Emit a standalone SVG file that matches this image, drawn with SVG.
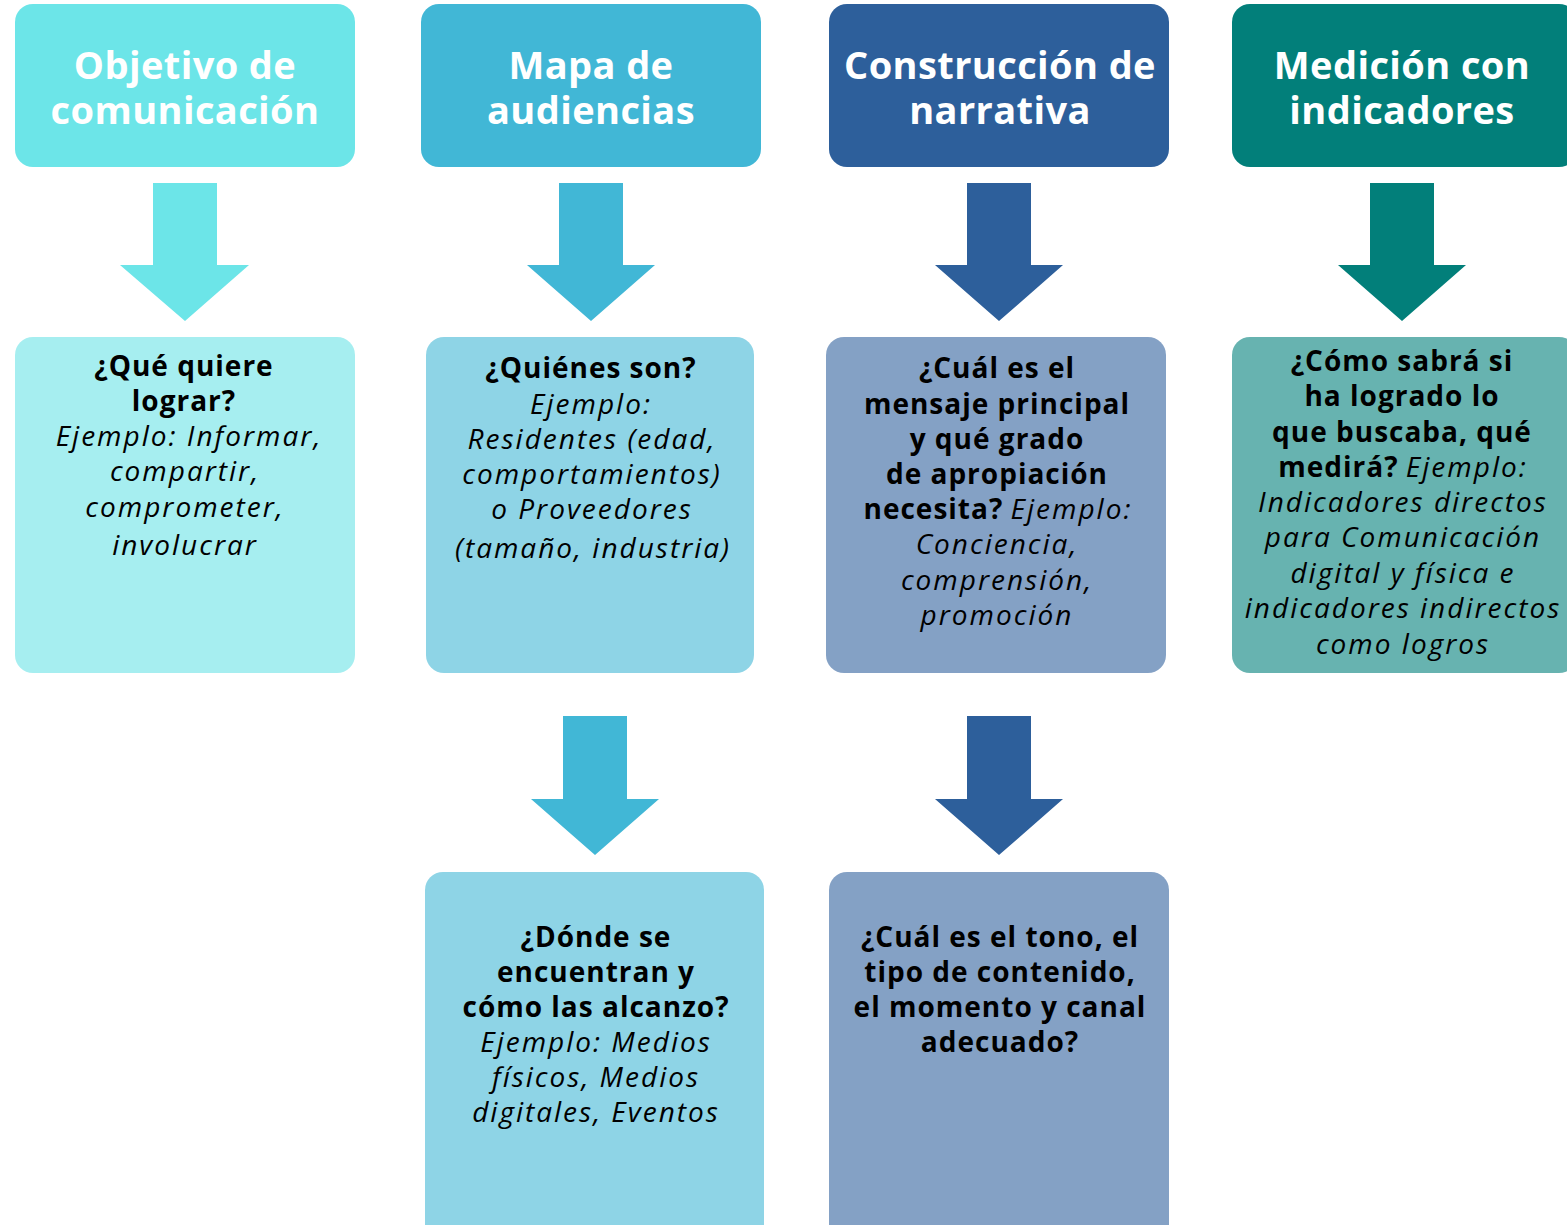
<svg xmlns="http://www.w3.org/2000/svg" width="1567" height="1225" viewBox="0 0 1567 1225">
<style>
.h{font-family:"Open Sans","Noto Sans",sans-serif;font-weight:700;font-size:38px;letter-spacing:0.4px;fill:#fff;text-anchor:middle}
.t{font-family:"Open Sans","Noto Sans",sans-serif;font-size:28px;fill:#000;text-anchor:middle}
.b{font-weight:700;letter-spacing:1px}
.i{font-style:italic;letter-spacing:2px}
.c1{fill:#6CE5E8}.c2{fill:#41B7D6}.c3{fill:#2D5F9B}.c4{fill:#027F7A}
.l1{fill:#A6EEF0}.l2{fill:#8ED4E6}.l3{fill:#84A1C5}.l4{fill:#67B3B0}
</style>
<rect width="1567" height="1225" fill="#fff"/>
<g id="connectors">
<polygon class="c1" points="153,183 217,183 217,265 249,265 185,321 120,265 153,265"/>
<polygon class="c2" points="559,183 623,183 623,265 655,265 591,321 527,265 559,265"/>
<polygon class="c3" points="967,183 1031,183 1031,265 1063,265 999,321 935,265 967,265"/>
<polygon class="c4" points="1370,183 1434,183 1434,265 1466,265 1402,321 1338,265 1370,265"/>
<polygon class="c2" points="563,716 627,716 627,799 659,799 595,855 531,799 563,799"/>
<polygon class="c3" points="967,716 1031,716 1031,799 1063,799 999,855 935,799 967,799"/>
</g>
<g id="h1"><rect class="c1" x="15" y="4" width="340" height="163" rx="18"/>
<text class="h" x="185" y="79">Objetivo de</text><text class="h" x="185" y="124">comunicación</text></g>
<g id="h2"><rect class="c2" x="421" y="4" width="340" height="163" rx="18"/>
<text class="h" x="591" y="79">Mapa de</text><text class="h" x="591" y="124">audiencias</text></g>
<g id="h3"><rect class="c3" x="829" y="4" width="340" height="163" rx="18"/>
<text class="h" x="1000" y="79">Construcción de</text><text class="h" x="1000" y="124">narrativa</text></g>
<g id="h4"><rect class="c4" x="1232" y="4" width="345" height="163" rx="18"/>
<text class="h" x="1402" y="79">Medición con</text><text class="h" x="1402" y="124">indicadores</text></g>

<g id="b1"><rect class="l1" x="15" y="337" width="340" height="336" rx="18"/>
<text class="t b" x="184" y="376">¿Qué quiere</text>
<text class="t b" x="184" y="411">lograr?</text>
<text class="t i" x="189" y="446">Ejemplo: Informar,</text>
<text class="t i" x="185" y="481">compartir,</text>
<text class="t i" x="185" y="517">comprometer,</text>
<text class="t i" x="185" y="555">involucrar</text></g>

<g id="b2"><rect class="l2" x="426" y="337" width="328" height="336" rx="18"/>
<text class="t b" x="591" y="378">¿Quiénes son?</text>
<text class="t i" x="591" y="414">Ejemplo:</text>
<text class="t i" x="592" y="449">Residentes (edad,</text>
<text class="t i" x="592" y="484">comportamientos)</text>
<text class="t i" x="592" y="519">o Proveedores</text>
<text class="t i" x="593" y="558">(tamaño, industria)</text></g>

<g id="b3"><rect class="l3" x="826" y="337" width="340" height="336" rx="18"/>
<text class="t b" x="997" y="378">¿Cuál es el</text>
<text class="t b" x="997" y="414">mensaje principal</text>
<text class="t b" x="997" y="449">y qué grado</text>
<text class="t b" x="997" y="484">de apropiación</text>
<text class="t" x="998" y="519"><tspan class="b">necesita?</tspan> <tspan class="i">Ejemplo:</tspan></text>
<text class="t i" x="997" y="554">Conciencia,</text>
<text class="t i" x="997" y="590">comprensión,</text>
<text class="t i" x="997" y="625">promoción</text></g>

<g id="b4"><rect class="l4" x="1232" y="337" width="345" height="336" rx="18"/>
<text class="t b" x="1402" y="371">¿Cómo sabrá si</text>
<text class="t b" x="1402" y="406">ha logrado lo</text>
<text class="t b" x="1402" y="442">que buscaba, qué</text>
<text class="t" x="1403" y="477"><tspan class="b">medirá?</tspan> <tspan class="i">Ejemplo:</tspan></text>
<text class="t i" x="1403" y="512">Indicadores directos</text>
<text class="t i" x="1403" y="547">para Comunicación</text>
<text class="t i" x="1403" y="583">digital y física e</text>
<text class="t i" x="1403" y="618">indicadores indirectos</text>
<text class="t i" x="1403" y="654">como logros</text></g>

<g id="b5"><rect class="l2" x="425" y="872" width="339" height="370" rx="18"/>
<text class="t b" x="596" y="947">¿Dónde se</text>
<text class="t b" x="596" y="982">encuentran y</text>
<text class="t b" x="596" y="1017">cómo las alcanzo?</text>
<text class="t i" x="596" y="1052">Ejemplo: Medios</text>
<text class="t i" x="596" y="1087">físicos, Medios</text>
<text class="t i" x="596" y="1122">digitales, Eventos</text></g>

<g id="b6"><rect class="l3" x="829" y="872" width="340" height="370" rx="18"/>
<text class="t b" x="1000" y="947">¿Cuál es el tono, el</text>
<text class="t b" x="1000" y="982">tipo de contenido,</text>
<text class="t b" x="1000" y="1017">el momento y canal</text>
<text class="t b" x="1000" y="1052">adecuado?</text></g>
</svg>
